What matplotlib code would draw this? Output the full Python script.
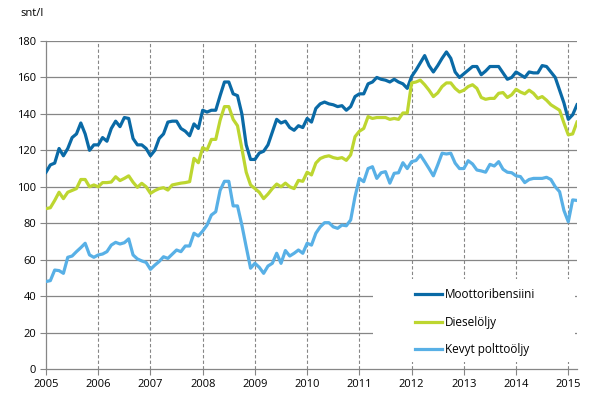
import numpy as np
import matplotlib
matplotlib.use('Agg')
import matplotlib.pyplot as plt
from matplotlib.patches import Rectangle

# kuukausihinnat 2005/01 - 2015/03, snt/l
bensiini = [108, 112, 113, 121, 117, 121, 127, 129, 135, 129, 120, 123,
            123, 127, 125, 132, 136, 133, 138, 137.5, 126.5, 123, 123, 121,
            117, 120, 126.5, 129, 135.5, 136, 136, 132, 130.5, 128, 134.5, 132,
            142, 141, 142, 142, 150, 157.5, 157.5, 151, 150, 140, 123, 115,
            115, 118.5, 119.5, 123, 130, 137, 135, 136, 132.5, 131, 133.5, 132.5,
            137.5, 135.5, 143, 145.5, 146.5, 145.5, 145, 144, 144.5, 142, 144, 149.5,
            151, 151, 156.5, 157.5, 160, 159, 158.5, 157.5, 159, 157.5, 156.5, 154,
            160.5, 164, 168, 172, 166.5, 163, 166.5, 170.5, 174, 170.5, 163, 160,
            162, 164, 166, 166, 161.5, 163.5, 166, 166, 166, 162.5, 159, 160,
            163, 161.5, 160, 163, 162.5, 162.5, 166.5, 166, 163, 160, 153, 146,
            137, 139.5, 145]
diesel = [88, 88.5, 92.5, 97, 93.5, 97, 98, 99, 104, 104, 100, 101,
          100, 102.3, 102.3, 102.6, 105.5, 103.4, 104.6, 106, 102.5, 99.7, 101.9, 100,
          96.4, 97.9, 99, 99.5, 98.2, 101, 101.5, 102, 102.3, 102.8, 115.6, 113.2,
          121.5, 120.2, 126, 126, 136.5, 144, 144, 137, 133.5, 121, 108, 101,
          99, 97, 93.5, 96, 99, 101.5, 100, 102, 100, 99, 103.5, 103,
          108, 106.5, 113, 115.5, 116.5, 117, 116, 115.5, 116, 114.5, 117.5, 127.5,
          130.5, 132, 138.5, 137.5, 138, 138, 138, 137, 137.5, 137, 140.5, 140.5,
          157, 157.5, 158.5, 156, 153, 149.5, 151.5, 155, 157, 157, 154, 152,
          153, 155, 156, 154, 149, 148, 148.5, 148.5, 151.3, 151.7, 149, 150.5,
          153.5, 152, 151, 153, 151.3, 148.5, 149.5, 147.5, 145, 143.5, 142, 135,
          128.5, 129, 135.5]
polttooljy = [48, 48.5, 54.3, 54, 52.5, 61.3, 62, 64.4, 66.6, 69, 62.6, 61.3,
              62.6, 63.1, 64.4, 68, 69.5, 68.6, 69.3, 71.4, 62.6, 60.4, 59.3, 58.5,
              54.7, 57, 59, 61.6, 60.7, 63, 65.3, 64.4, 67.5, 67.5, 74.5, 73,
              75.7, 79, 84.5, 86.3, 98, 103, 103, 89.5, 89.5, 79, 67, 55.3,
              58, 55.8, 52.5, 56.5, 58, 63.5, 58, 65, 62, 63.5, 65.3, 63.5,
              69, 68, 74.5, 78, 80.3, 80.3, 78, 77.2, 79, 78.6, 81.8, 94.6,
              104.6, 102.8, 110, 111, 104.6, 107.7, 108.3, 102, 107.4, 107.7, 113.2, 110,
              113.8, 114.4, 117.4, 113.8, 110, 106, 112, 118.4, 118, 118.4, 113, 110,
              110, 114.3, 112.5, 109.2, 108.7, 108, 112.3, 111.4, 113.8, 109.6, 108, 107.7,
              106, 105.6, 102.3, 104, 104.6, 104.6, 104.6, 105.2, 104, 100, 97.3, 87,
              80.8, 92.8, 92.5]
vuodet = list(range(2005, 2016))
yticks = list(range(0, 181, 20))
nimet = ['Moottoribensiini', 'Dieselöljy', 'Kevyt polttoöljy']

plt.rcParams['font.family'] = ['Open Sans', 'DejaVu Sans']
grey = '#868686'

x = 2005 + np.arange(len(bensiini)) / 12.0

fig = plt.figure(figsize=(6.05, 4.16), dpi=100)
ax = fig.add_axes([46/605, 1-369/416, 531/605, 328/416])

for v in vuodet[1:]:
    ax.axvline(v, color=grey, lw=0.8, ls=(0, (3, 2)), zorder=1)
for yv in yticks[1:]:
    ax.axhline(yv, color=grey, lw=0.9, zorder=1)

# valkoinen alue selitteen alle
ax.add_patch(Rectangle((0.616, 0.021), 0.38, 0.253, transform=ax.transAxes,
                       facecolor='white', edgecolor='none', zorder=1.5))

ax.plot(x, bensiini, color='#0a6aa6', lw=2.3, label=nimet[0], zorder=3)
ax.plot(x, diesel, color='#bdd630', lw=2.3, label=nimet[1], zorder=3)
ax.plot(x, polttooljy, color='#58b0e6', lw=2.3, label=nimet[2], zorder=3)

ax.set_xlim(2005, x[-1])
ax.set_ylim(0, 180)
ax.set_xticks(vuodet)
ax.set_yticks(yticks)
ax.tick_params(labelsize=8, colors='black', length=4, width=0.8, color=grey, pad=3)
for s in ['top', 'right']:
    ax.spines[s].set_visible(False)
for s in ['left', 'bottom']:
    ax.spines[s].set_color(grey)
    ax.spines[s].set_linewidth(0.9)

leg = ax.legend(loc='upper left', bbox_to_anchor=(0.695, 0.247), frameon=False,
                fontsize=8.5, handlelength=2.3, handletextpad=0.2, labelspacing=1.25,
                borderpad=0, borderaxespad=0)

fig.text(20/605, 1-14/416, 'snt/l', fontsize=8, va='center', ha='left')

fig.savefig('out.png', dpi=100)
